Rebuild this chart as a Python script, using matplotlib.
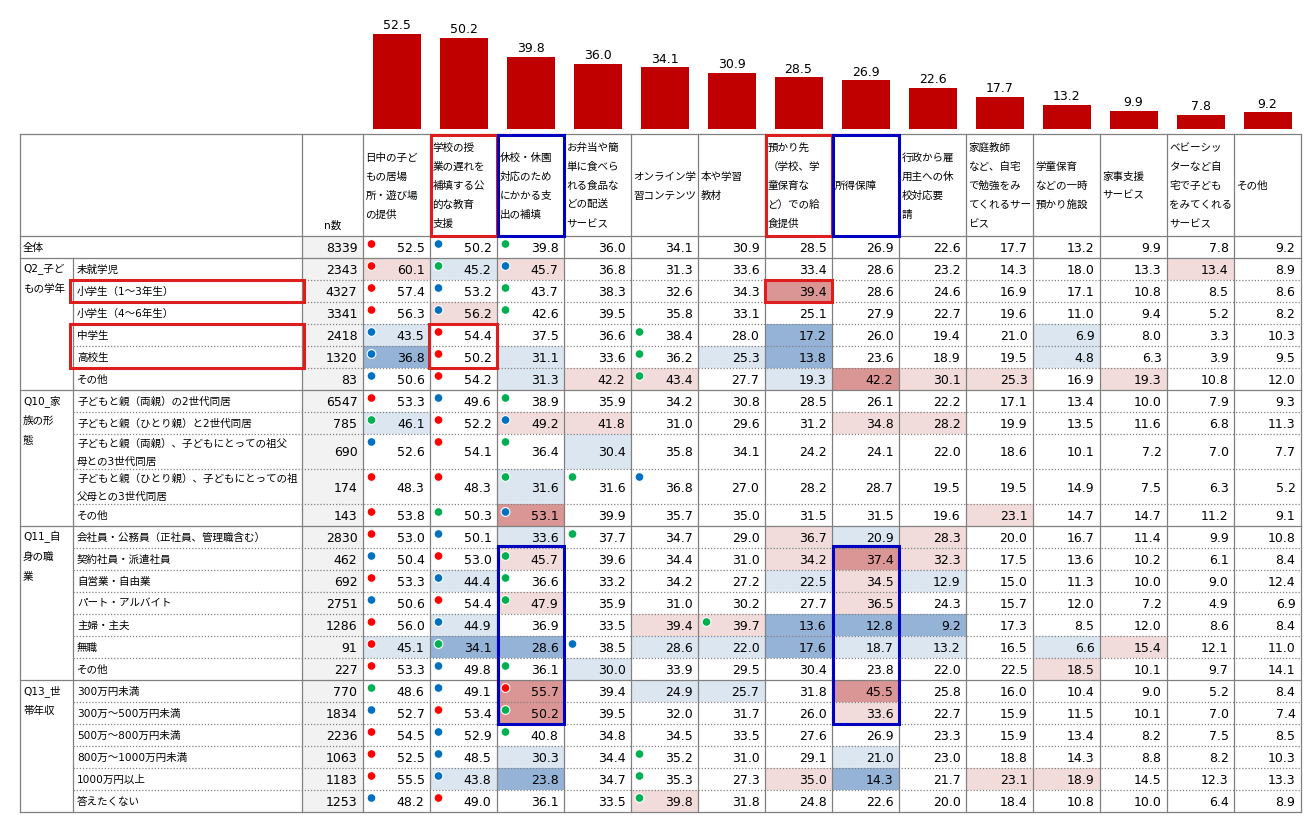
import matplotlib
matplotlib.use("Agg")
import matplotlib.pyplot as plt
from matplotlib.patches import Rectangle, Circle

# ---- data ----
columns = ["日中の子ど\nもの居場\n所・遊び場\nの提供",
           "学校の授\n業の遅れを\n補填する公\n的な教育\n支援",
           "休校・休園\n対応のため\nにかかる支\n出の補填",
           "お弁当や簡\n単に食べら\nれる食品な\nどの配送\nサービス",
           "オンライン学\n習コンテンツ",
           "本や学習\n教材",
           "預かり先\n（学校、学\n童保育な\nど）での給\n食提供",
           "所得保障",
           "行政から雇\n用主への休\n校対応要\n請",
           "家庭教師\nなど、自宅\nで勉強をみ\nてくれるサー\nビス",
           "学童保育\nなどの一時\n預かり施設",
           "家事支援\nサービス",
           "ベビーシッ\nターなど自\n宅で子ども\nをみてくれる\nサービス",
           "その他"]

overall_label = "全体"
overall_n = 8339
overall = [52.5, 50.2, 39.8, 36.0, 34.1, 30.9, 28.5, 26.9, 22.6, 17.7, 13.2, 9.9, 7.8, 9.2]

group_names = ["Q2_子ど\nもの学年", "Q10_家\n族の形\n態", "Q11_自\n身の職\n業", "Q13_世\n帯年収"]

q2_labels = ["未就学児", "小学生（1～3年生）", "小学生（4～6年生）", "中学生", "高校生", "その他"]
q2_n = [2343, 4327, 3341, 2418, 1320, 83]
q2_values = [
    [60.1, 45.2, 45.7, 36.8, 31.3, 33.6, 33.4, 28.6, 23.2, 14.3, 18.0, 13.3, 13.4, 8.9],
    [57.4, 53.2, 43.7, 38.3, 32.6, 34.3, 39.4, 28.6, 24.6, 16.9, 17.1, 10.8, 8.5, 8.6],
    [56.3, 56.2, 42.6, 39.5, 35.8, 33.1, 25.1, 27.9, 22.7, 19.6, 11.0, 9.4, 5.2, 8.2],
    [43.5, 54.4, 37.5, 36.6, 38.4, 28.0, 17.2, 26.0, 19.4, 21.0, 6.9, 8.0, 3.3, 10.3],
    [36.8, 50.2, 31.1, 33.6, 36.2, 25.3, 13.8, 23.6, 18.9, 19.5, 4.8, 6.3, 3.9, 9.5],
    [50.6, 54.2, 31.3, 42.2, 43.4, 27.7, 19.3, 42.2, 30.1, 25.3, 16.9, 19.3, 10.8, 12.0],
]

q10_labels = ["子どもと親（両親）の2世代同居", "子どもと親（ひとり親）と2世代同居",
              "子どもと親（両親）、子どもにとっての祖父\n母との3世代同居",
              "子どもと親（ひとり親）、子どもにとっての祖\n父母との3世代同居", "その他"]
q10_n = [6547, 785, 690, 174, 143]
q10_values = [
    [53.3, 49.6, 38.9, 35.9, 34.2, 30.8, 28.5, 26.1, 22.2, 17.1, 13.4, 10.0, 7.9, 9.3],
    [46.1, 52.2, 49.2, 41.8, 31.0, 29.6, 31.2, 34.8, 28.2, 19.9, 13.5, 11.6, 6.8, 11.3],
    [52.6, 54.1, 36.4, 30.4, 35.8, 34.1, 24.2, 24.1, 22.0, 18.6, 10.1, 7.2, 7.0, 7.7],
    [48.3, 48.3, 31.6, 31.6, 36.8, 27.0, 28.2, 28.7, 19.5, 19.5, 14.9, 7.5, 6.3, 5.2],
    [53.8, 50.3, 53.1, 39.9, 35.7, 35.0, 31.5, 31.5, 19.6, 23.1, 14.7, 14.7, 11.2, 9.1],
]

q11_labels = ["会社員・公務員（正社員、管理職含む）", "契約社員・派遣社員", "自営業・自由業",
              "パート・アルバイト", "主婦・主夫", "無職", "その他"]
q11_n = [2830, 462, 692, 2751, 1286, 91, 227]
q11_values = [
    [53.0, 50.1, 33.6, 37.7, 34.7, 29.0, 36.7, 20.9, 28.3, 20.0, 16.7, 11.4, 9.9, 10.8],
    [50.4, 53.0, 45.7, 39.6, 34.4, 31.0, 34.2, 37.4, 32.3, 17.5, 13.6, 10.2, 6.1, 8.4],
    [53.3, 44.4, 36.6, 33.2, 34.2, 27.2, 22.5, 34.5, 12.9, 15.0, 11.3, 10.0, 9.0, 12.4],
    [50.6, 54.4, 47.9, 35.9, 31.0, 30.2, 27.7, 36.5, 24.3, 15.7, 12.0, 7.2, 4.9, 6.9],
    [56.0, 44.9, 36.9, 33.5, 39.4, 39.7, 13.6, 12.8, 9.2, 17.3, 8.5, 12.0, 8.6, 8.4],
    [45.1, 34.1, 28.6, 38.5, 28.6, 22.0, 17.6, 18.7, 13.2, 16.5, 6.6, 15.4, 12.1, 11.0],
    [53.3, 49.8, 36.1, 30.0, 33.9, 29.5, 30.4, 23.8, 22.0, 22.5, 18.5, 10.1, 9.7, 14.1],
]

q13_labels = ["300万円未満", "300万～500万円未満", "500万～800万円未満", "800万～1000万円未満",
              "1000万円以上", "答えたくない"]
q13_n = [770, 1834, 2236, 1063, 1183, 1253]
q13_values = [
    [48.6, 49.1, 55.7, 39.4, 24.9, 25.7, 31.8, 45.5, 25.8, 16.0, 10.4, 9.0, 5.2, 8.4],
    [52.7, 53.4, 50.2, 39.5, 32.0, 31.7, 26.0, 33.6, 22.7, 15.9, 11.5, 10.1, 7.0, 7.4],
    [54.5, 52.9, 40.8, 34.8, 34.5, 33.5, 27.6, 26.9, 23.3, 15.9, 13.4, 8.2, 7.5, 8.5],
    [52.5, 48.5, 30.3, 34.4, 35.2, 31.0, 29.1, 21.0, 23.0, 18.8, 14.3, 8.8, 8.2, 10.3],
    [55.5, 43.8, 23.8, 34.7, 35.3, 27.3, 35.0, 14.3, 21.7, 23.1, 18.9, 14.5, 12.3, 13.3],
    [48.2, 49.0, 36.1, 33.5, 39.8, 31.8, 24.8, 22.6, 20.0, 18.4, 10.8, 10.0, 6.4, 8.9],
]

# cell shading: p light red, P strong red, b light blue, B strong blue
shade = [
    "..............",
    "pbp.........p.", "......P.......", ".p............", "b.....B...b...", "B.b..bB...b...", "..bpp.bPpp.p..",
    "..............", "b.pp...pp.....", "...b..........", "..b...........", "..P......p....",
    "..b...pbp.....", "..p...pPp.....", ".b....bpb.....", "..p....p......", ".b..ppBBB.....", "bBB.bbBbb.bp..", "...b......p...",
    "..P.bb.P......", "..P....p......", "..............", "..b....b......", ".bB...pB.pp...", "....p.........",
]
# rank markers: r / b / g
marks = [
    "rbg",
    "rgb", "rbg", "rbg", "br..g", "br..g", "br..g",
    "rbg", "grb", "brg", "rrggb", "rgb",
    "rb.g", "brg", "rbg", "brg", "rb...g", "rg.b", "rbg",
    "gbr", "brg", "rbg", "rb..g", "rb..g", "br..g",
]

groups = [(q2_labels, q2_n, q2_values), (q10_labels, q10_n, q10_values),
          (q11_labels, q11_n, q11_values), (q13_labels, q13_n, q13_values)]

# ---- styles ----
JP = ["Noto Sans CJK JP", "DejaVu Sans"]
LAB = ["DejaVu Sans", "Noto Sans CJK JP"]   # latin/digits in DejaVu, kana/kanji fall back
NUM = ["DejaVu Sans"]
JP_SIZE = 7.6
shade_col = {"p": "#F2DCDB", "P": "#DA9694", "b": "#DCE6F1", "B": "#95B3D7"}
mark_col = {"r": "#FF0000", "b": "#0070C0", "g": "#00B050"}
grid_col = "#808080"
RED = "#DC1E1E"
BLUE = "#0000C0"

W, H = 1313, 829
fig = plt.figure(figsize=(W / 100, H / 100), dpi=100)
ax = fig.add_axes([0, 0, 1, 1])
ax.set_xlim(0, W)
ax.set_ylim(H, 0)
ax.axis("off")

x_grp, x_lab, x_n, x_d = 20, 73, 302, 363
cw = 67
ncol = len(columns)
xs = [x_d + cw * i for i in range(ncol + 1)]
x_end = xs[-1]
y_head, y_hb = 135, 237

# build rows
rows = [(overall_label, overall_n, overall, None)]
for gi, (labs, ns, vals) in enumerate(groups):
    for j in range(len(labs)):
        rows.append((labs[j], ns[j], vals[j], gi))

ys = [y_hb]
for lab, n, vals, g in rows:
    ys.append(ys[-1] + (35 if "\n" in lab else 22))
y_end = ys[-1]

# ---- bar chart on top ----
bax = fig.add_axes([x_d / W, 1 - 130 / H, (x_end - x_d) / W, 128 / H])
px_per = 1.81
bax.bar(range(ncol), overall, width=48 / cw, color="#C00000")
for i, v in enumerate(overall):
    bax.text(i, v + 1.5, f"{v:.1f}", ha="center", va="bottom", fontsize=9, family=NUM)
bax.set_xlim(-0.5, ncol - 0.5)
bax.set_ylim(0, 128 / px_per)
bax.axis("off")

# ---- table ----
# backgrounds
for r, (lab, n, vals, g) in enumerate(rows):
    y0, y1 = ys[r], ys[r + 1]
    ax.add_patch(Rectangle((x_n, y0), x_d - x_n, y1 - y0, fc="#F2F2F2", ec="none", zorder=1))
    for c in range(ncol):
        s = shade[r][c]
        if s in shade_col:
            ax.add_patch(Rectangle((xs[c], y0), cw, y1 - y0, fc=shade_col[s], ec="none", zorder=1))

# grid lines
solid = dict(color=grid_col, lw=0.9, zorder=2)
group_end = [0]
for r in range(1, len(rows)):
    if r == len(rows) - 1 or rows[r + 1][3] != rows[r][3]:
        group_end.append(r)
ax.plot([x_grp, x_end], [y_head, y_head], **solid)
ax.plot([x_grp, x_end], [y_hb, y_hb], **solid)
for r in range(len(rows)):
    yb = ys[r + 1]
    if r in group_end:
        ax.plot([x_grp, x_end], [yb, yb], **solid)
    else:
        ax.plot([x_lab, x_end], [yb, yb], color=grid_col, lw=0.9, ls=(0, (1, 1.5)), zorder=2)
for x in [x_grp, x_n] + xs:
    ax.plot([x, x], [y_head, y_end], **solid)
ax.plot([x_lab, x_lab], [ys[1], y_end], **solid)

# header text
for c, name in enumerate(columns):
    lines = name.split("\n")
    yc = (y_head + y_hb) / 2
    for k, ln in enumerate(lines):
        ax.text(xs[c] + 2.5, yc + (k - (len(lines) - 1) / 2) * 19, ln, ha="left", va="center",
                fontsize=JP_SIZE, family=JP, zorder=3)
ax.text((x_n + x_d) / 2, 226, "n数", ha="center", va="center", fontsize=JP_SIZE, family=LAB, zorder=3)

# row texts
for r, (lab, n, vals, g) in enumerate(rows):
    y0, y1 = ys[r], ys[r + 1]
    yc = (y0 + y1) / 2
    lx = x_grp + 3 if g is None else x_lab + 4
    lines = lab.split("\n")
    for k, ln in enumerate(lines):
        ax.text(lx, yc + (k - (len(lines) - 1) / 2) * 18, ln, ha="left", va="center",
                fontsize=JP_SIZE, family=LAB, zorder=3)
    ax.text(x_d - 5.5, yc + 0.5, str(n), ha="right", va="center", fontsize=9, family=NUM, zorder=3)
    for c, v in enumerate(vals):
        ax.text(xs[c + 1] - 5.5, yc + 0.5, f"{v:.1f}", ha="right", va="center", fontsize=9,
                family=NUM, zorder=3)
    for c, m in enumerate(marks[r]):
        if m in mark_col:
            ax.add_patch(Circle((xs[c] + 8.5, y0 + 8), 4.4, fc=mark_col[m], ec="white", lw=0.8, zorder=3))

# group labels
for gi, name in enumerate(group_names):
    r0 = [r for r in range(len(rows)) if rows[r][3] == gi][0]
    for k, ln in enumerate(name.split("\n")):
        ax.text(x_grp + 3, ys[r0] + 10 + k * 20, ln, ha="left", va="center", fontsize=JP_SIZE,
                family=LAB, zorder=3)

# highlight boxes
def box(x0, y0, x1, y1, color):
    ax.add_patch(Rectangle((x0, y0), x1 - x0, y1 - y0, fill=False, ec=color, lw=2.2, zorder=4))

for c, color in [(1, RED), (6, RED), (2, BLUE), (7, BLUE)]:
    box(xs[c] + 0.5, y_head + 1, xs[c + 1] - 0.5, y_hb, color)
box(x_lab - 3, ys[2], x_n + 2, ys[3], RED)
box(x_lab - 3, ys[4], x_n + 2, ys[6], RED)
box(xs[1] - 1, ys[4], xs[2], ys[6], RED)
box(xs[6], ys[2], xs[7], ys[3], RED)
box(xs[2] + 0.5, ys[13] - 2, xs[3], ys[21], BLUE)
box(xs[7] + 0.5, ys[13] - 2, xs[8], ys[21], BLUE)

fig.savefig("out.png", dpi=100)
